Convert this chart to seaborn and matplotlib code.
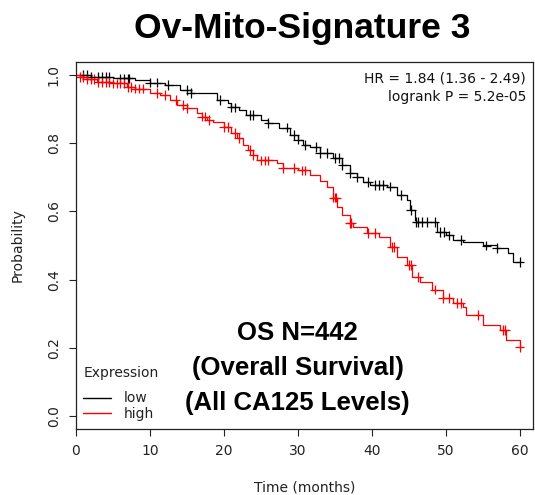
import numpy as np
import pandas as pd
import matplotlib
matplotlib.use("Agg")
import matplotlib.pyplot as plt
import seaborn as sns

# ---- data ----
low_time = [0, 2, 5, 8, 10, 12, 14, 15.5, 19, 20.5, 21, 22, 23, 25, 26, 27.5, 29, 30,
            30.7, 31.6, 33, 34.7, 36, 37, 38, 38.8, 39.7, 42, 43.4, 44.7, 45.1, 45.8,
            46, 48.8, 50.1, 51, 52.3, 55, 56.9, 58.4, 59.1, 60]
low_surv = [1.0, 0.994, 0.99, 0.985, 0.977, 0.971, 0.956, 0.947, 0.927, 0.918, 0.905,
            0.897, 0.883, 0.868, 0.859, 0.845, 0.824, 0.81, 0.795, 0.789, 0.771, 0.757,
            0.736, 0.713, 0.70, 0.686, 0.677, 0.672, 0.648, 0.633, 0.604, 0.575, 0.569,
            0.54, 0.53, 0.516, 0.51, 0.50, 0.493, 0.478, 0.452, 0.452]
high_time = [0, 0.5, 1.5, 2.8, 5, 6.9, 8, 10, 11.4, 12.7, 13.6, 15, 16.4, 17, 17.7,
             18.5, 20, 21, 21.8, 22.6, 23.2, 23.9, 24.5, 27.2, 28, 30, 31.6, 33, 33.9,
             34.7, 35.3, 36, 37, 37.4, 39.3, 41, 42.4, 43.4, 44.7, 45.5, 46.5, 48.2,
             49.6, 51, 52.3, 52.8, 55, 57.3, 58.2, 60]
high_surv = [1.0, 0.994, 0.988, 0.979, 0.975, 0.965, 0.96, 0.947, 0.941, 0.927, 0.912,
             0.903, 0.889, 0.878, 0.868, 0.862, 0.847, 0.83, 0.815, 0.795, 0.78, 0.765,
             0.75, 0.742, 0.727, 0.72, 0.707, 0.69, 0.672, 0.64, 0.613, 0.59, 0.566,
             0.554, 0.537, 0.525, 0.496, 0.466, 0.443, 0.408, 0.393, 0.37, 0.346, 0.331,
             0.32, 0.296, 0.267, 0.252, 0.223, 0.202]
low_censor = [1, 1.5, 2, 3, 3.5, 4, 4.5, 6, 6.5, 7, 7.2, 10, 11, 12.5, 15, 15.5, 19.5,
              21, 21.5, 23.5, 24, 26, 28.5, 29.5, 30, 31, 32.5, 33, 34, 35, 35.5, 36, 37,
              38, 39.5, 40.5, 41, 41.5, 42.5, 44, 45.3, 46, 46.3, 46.8, 47.5, 48.5, 49.2,
              49.8, 50.5, 52, 55.5, 56.9, 60]
high_censor = [0.5, 1, 1.5, 2, 2.5, 3, 3.5, 4, 4.5, 5, 5.5, 6, 6.5, 7, 7.5, 8, 8.5, 9,
               11, 12, 13.5, 14.5, 15, 17, 17.5, 18, 20, 20.5, 21.5, 22, 23.5, 24, 25,
               25.5, 26, 28, 29.5, 30.5, 31, 34.8, 35, 35.2, 37, 37.2, 39.5, 40.5, 42.7,
               43, 45, 45.3, 46.3, 48.5, 49.6, 50.5, 51.5, 52, 54.3, 57.8, 58, 60]
groups = ["low", "high"]
colors = {"low": "black", "high": "red"}
title = "Ov-Mito-Signature 3"
stats_text = "HR = 1.84 (1.36 - 2.49)\nlogrank P = 5.2e-05"
note_text = "OS N=442\n(Overall Survival)\n(All CA125 Levels)"
xticks = [0, 10, 20, 30, 40, 50, 60]
yticks = [0.0, 0.2, 0.4, 0.6, 0.8, 1.0]

curves = pd.concat([
    pd.DataFrame({"Time": low_time, "Survival": low_surv, "Expression": "low"}),
    pd.DataFrame({"Time": high_time, "Survival": high_surv, "Expression": "high"}),
], ignore_index=True)

def censor_df(times, ct, cs, name):
    ct = np.asarray(ct); cs = np.asarray(cs)
    idx = np.searchsorted(ct, times, side="right") - 1
    return pd.DataFrame({"Time": times, "Survival": cs[idx], "Expression": name})

marks = pd.concat([
    censor_df(low_censor, low_time, low_surv, "low"),
    censor_df(high_censor, high_time, high_surv, "high"),
], ignore_index=True)

sns.set_style("ticks")
plt.rcParams["font.family"] = ["DejaVu Sans"]
plt.rcParams["text.color"] = "black"

fig = plt.figure(figsize=(5.35, 4.95), dpi=100)
ax = fig.add_axes([76 / 535, 66 / 495, (533 - 76) / 535, (429 - 62) / 495])

sns.lineplot(data=curves, x="Time", y="Survival", hue="Expression", hue_order=groups,
             palette=colors, drawstyle="steps-post", estimator=None, linewidth=0.9,
             ax=ax, legend=True)
sns.scatterplot(data=marks, x="Time", y="Survival", hue="Expression", hue_order=groups,
                palette=colors, marker="+", s=45, linewidth=0.9, ax=ax, legend=False)

ax.set_xlim(0, 61.8)
ax.set_ylim(-0.038, 1.038)
ax.set_xticks(xticks)
ax.set_xticklabels([str(t) for t in xticks], fontsize=10, color="#222222")
ax.set_yticks(yticks)
ax.set_yticklabels([f"{t:.1f}" for t in yticks], fontsize=10, rotation=90,
                   va="center", color="#222222")
ax.tick_params(axis="both", direction="out", length=5, width=0.8, color="#222222", pad=6)
for s in ax.spines.values():
    s.set_visible(True)
    s.set_linewidth(0.9)
    s.set_color("#222222")
ax.set_xlabel("Time (months)", fontsize=10, color="#222222", labelpad=16)
ax.set_ylabel("Probability", fontsize=10, color="#222222", labelpad=16)

leg = ax.legend(title="Expression", loc="lower left", bbox_to_anchor=(-0.008, -0.008),
                frameon=False, fontsize=10, title_fontsize=10, handlelength=2.0,
                labelspacing=0.1, handletextpad=0.9, borderaxespad=0.4)
leg._legend_box.align = "left"
leg._legend_box.sep = 8
for t in leg.get_texts():
    t.set_color("#222222")
leg.get_title().set_color("#222222")
for h in leg.get_lines():
    h.set_linewidth(1.0)

ax.text(0.985, 0.975, stats_text, transform=ax.transAxes, ha="right", va="top",
        fontsize=10, color="#111111", linespacing=1.4)
ax.text(0.485, 0.166, note_text, transform=ax.transAxes, ha="center", va="center",
        fontsize=18.5, fontweight="bold", family="Liberation Sans", linespacing=1.6,
        color="black")
fig.text(0.565, 0.943, title, ha="center", va="center", fontsize=25.5, fontweight="bold",
         family="Liberation Sans", color="black")

fig.savefig("out.png", dpi=100)
